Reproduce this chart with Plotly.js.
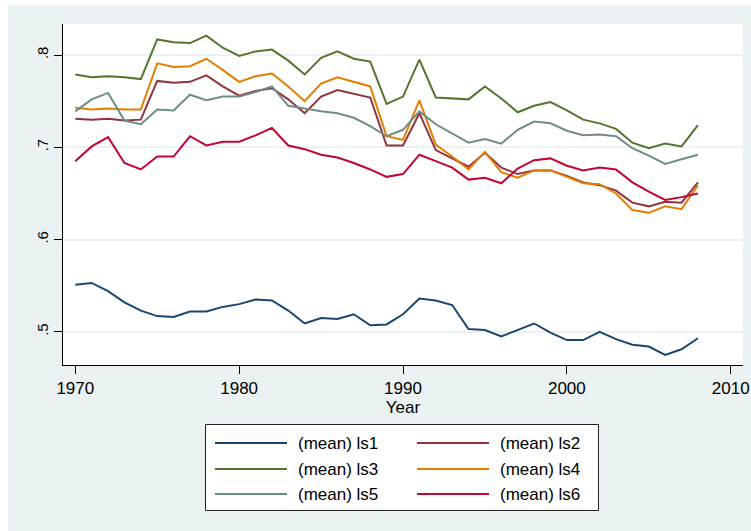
<!DOCTYPE html>
<html>
<head>
<meta charset="utf-8">
<script src="https://cdn.plot.ly/plotly-3.0.1.min.js"></script>
<style>html,body{margin:0;padding:0;background:#fff;}#chart{width:751px;height:531px;}</style>
</head>
<body>
<div id="chart"></div>
<script>
var years = [];
for (var yr = 1970; yr <= 2008; yr++) years.push(yr);

var ls1 = [0.551,0.553,0.544,0.532,0.523,0.517,0.516,0.522,0.522,0.527,0.530,0.535,0.534,0.523,0.509,0.515,0.514,0.519,0.507,0.508,0.519,0.536,0.534,0.529,0.503,0.502,0.495,0.502,0.509,0.499,0.491,0.491,0.500,0.492,0.486,0.484,0.475,0.481,0.493];
var ls2 = [0.731,0.730,0.731,0.729,0.730,0.772,0.770,0.771,0.778,0.766,0.756,0.761,0.764,0.752,0.737,0.755,0.762,0.758,0.754,0.702,0.702,0.737,0.697,0.688,0.679,0.694,0.678,0.671,0.675,0.675,0.669,0.662,0.659,0.653,0.640,0.636,0.641,0.640,0.662];
var ls3 = [0.779,0.776,0.777,0.776,0.774,0.817,0.814,0.813,0.821,0.808,0.799,0.804,0.806,0.794,0.779,0.797,0.804,0.796,0.793,0.747,0.755,0.795,0.754,0.753,0.752,0.766,0.753,0.738,0.745,0.749,0.740,0.730,0.726,0.720,0.705,0.699,0.704,0.701,0.724];
var ls4 = [0.743,0.741,0.742,0.741,0.741,0.791,0.787,0.788,0.796,0.784,0.771,0.777,0.780,0.766,0.750,0.769,0.776,0.771,0.766,0.712,0.708,0.751,0.703,0.690,0.676,0.695,0.673,0.667,0.675,0.675,0.668,0.661,0.660,0.650,0.632,0.629,0.636,0.633,0.659];
var ls5 = [0.739,0.752,0.759,0.729,0.725,0.741,0.740,0.757,0.751,0.755,0.755,0.760,0.766,0.745,0.742,0.739,0.737,0.732,0.723,0.712,0.719,0.739,0.725,0.715,0.705,0.709,0.704,0.719,0.728,0.726,0.718,0.713,0.714,0.712,0.699,0.691,0.682,0.687,0.692];
var ls6 = [0.685,0.701,0.711,0.683,0.676,0.690,0.690,0.712,0.702,0.706,0.706,0.713,0.721,0.702,0.698,0.692,0.689,0.683,0.676,0.668,0.671,0.692,0.685,0.678,0.665,0.667,0.661,0.677,0.686,0.688,0.680,0.675,0.678,0.676,0.662,0.652,0.643,0.646,0.650];

var seriesNames = ['(mean) ls1','(mean) ls2','(mean) ls3','(mean) ls4','(mean) ls5','(mean) ls6'];
var seriesData = [ls1, ls2, ls3, ls4, ls5, ls6];
var seriesColors = ['#1A476F','#90353B','#55752F','#E37E00','#6E8E84','#C10534'];

var xTickVals = [1970,1980,1990,2000,2010];
var yTickVals = [0.5,0.6,0.7,0.8];
var yTickText = ['.5','.6','.7','.8'];

var W = 751, H = 531, ML = 63, MR = 8, MT = 24, MB = 166;
var PW = W - ML - MR, PH = H - MT - MB;
function xp(px){ return (px - ML) / PW; }
function yp(py){ return (H - MB - py) / PH; }

var traces = seriesData.map(function(d, i){
  return {
    x: years, y: d, type: 'scatter', mode: 'lines',
    name: seriesNames[i], showlegend: false,
    line: {color: seriesColors[i], width: 2}
  };
});

// legend (2 columns x 3 rows) drawn as shapes + annotations
var legColX = [215, 417];
var legRowY = [443, 469, 494];
var shapes = [
  {type: 'rect', xref: 'paper', yref: 'paper', x0: xp(0), x1: xp(W), y0: yp(0), y1: yp(5), fillcolor: '#FFFFFF', line: {width: 0}, layer: 'below'},
  {type: 'rect', xref: 'paper', yref: 'paper', x0: xp(0), x1: xp(8), y0: yp(0), y1: yp(H), fillcolor: '#FFFFFF', line: {width: 0}, layer: 'below'},
  {type: 'rect', xref: 'paper', yref: 'paper', x0: xp(205.5), x1: xp(598.5), y0: yp(424.5), y1: yp(510.5), fillcolor: '#FFFFFF', line: {color: '#222', width: 1}, layer: 'below'}
];
var annotations = [];
seriesNames.forEach(function(nm, i){
  var c = i % 2, r = Math.floor(i / 2);
  shapes.push({type: 'line', xref: 'paper', yref: 'paper',
    x0: xp(legColX[c]), x1: xp(legColX[c] + 72), y0: yp(legRowY[r]), y1: yp(legRowY[r]),
    line: {color: seriesColors[i], width: 2}, layer: 'above'});
  annotations.push({xref: 'paper', yref: 'paper', x: xp(legColX[c] + 81), y: yp(legRowY[r]),
    xanchor: 'left', yanchor: 'middle', showarrow: false, text: nm,
    font: {size: 17, color: '#000'}});
});

var layout = {
  width: W, height: H,
  margin: {l: ML, r: MR, t: MT, b: MB, pad: 0},
  paper_bgcolor: '#EAF2F3',
  plot_bgcolor: '#FFFFFF',
  font: {family: 'Liberation Sans, Arial, sans-serif', size: 17, color: '#000'},
  showlegend: false,
  xaxis: {
    range: [1969.25, 2010.75], tickvals: xTickVals,
    ticks: 'outside', ticklen: 8, tickwidth: 1, tickcolor: '#000',
    showline: true, linecolor: '#000', linewidth: 1,
    showgrid: false, zeroline: false,
    tickfont: {size: 17},
    title: {text: 'Year', font: {size: 17}, standoff: 2}
  },
  yaxis: {
    range: [0.464, 0.8337], tickvals: yTickVals, ticktext: yTickText,
    tickangle: -90,
    ticks: 'outside', ticklen: 8, tickwidth: 1, tickcolor: '#000',
    showline: true, linecolor: '#000', linewidth: 1,
    showgrid: true, gridcolor: '#EAF2F3', gridwidth: 2,
    zeroline: false,
    tickfont: {size: 15}
  },
  shapes: shapes,
  annotations: annotations
};

Plotly.newPlot('chart', traces, layout, {displayModeBar: false, staticPlot: true});
</script>
</body>
</html>
